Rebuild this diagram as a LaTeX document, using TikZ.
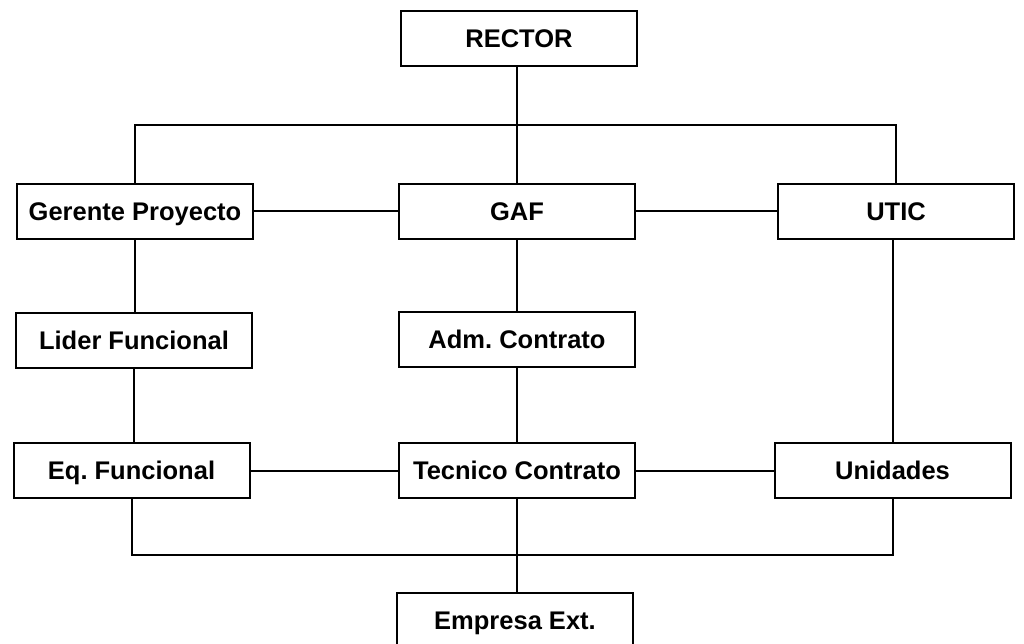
\documentclass[tikz,border=0pt]{standalone}
\usepackage{fontspec}
\setmainfont{Liberation Sans}
\frenchspacing
\begin{document}
\begin{tikzpicture}[x=1pt,y=-1pt,
  unit/.style={draw, line width=2pt, fill=white, minimum width=236pt,
    minimum height=55pt, inner sep=0pt, text height=18pt, text depth=0pt,
    font=\fontsize{25.5}{28}\selectfont\bfseries},
  link/.style={line width=2pt}]
\useasboundingbox (0,0) rectangle (1024,643);
\fill[white] (0,0) rectangle (1024,643);

% top level
\node[unit] (rector) at (519,38.5) {RECTOR};

% first row
\node[unit] (gerente)  at (135,211) {Gerente Proyecto};
\node[unit] (gaf)      at (517,211) {GAF};
\node[unit] (utic)     at (896,211) {UTIC};

% second row
\node[unit] (lider) at (134,340.5) {Lider Funcional};
\node[unit] (adm)   at (517,339.5) {Adm. Contrato};

% third row
\node[unit] (eq)       at (131.5,470.5) {Eq. Funcional};
\node[unit] (tecnico)  at (517,470.5) {Tecnico Contrato};
\node[unit] (unidades) at (892.5,470.5) {Unidades};

% external company
\node[unit] (empresa) at (515,620) {Empresa Ext.};

% bus lines
\coordinate (bustop) at (517,125);
\coordinate (busbot) at (511,555);

\draw[link] (rector.south -| gaf.north) -- (gaf.north);
\draw[link] (gerente.north) |- (bustop) -| (utic.north);
\draw[link] (gerente.east) -- (gaf.west);
\draw[link] (gaf.east) -- (utic.west);
\draw[link] (gerente.south) -- (gerente.south |- lider.north);
\draw[link] (gaf.south) -- (adm.north);
\draw[link] (adm.south) -- (tecnico.north);
\draw[link] (lider.south) -- (lider.south |- eq.north);
\draw[link] (utic.south -| unidades.north) -- (unidades.north);
\draw[link] (eq.east) -- (tecnico.west);
\draw[link] (tecnico.east) -- (unidades.west);
\draw[link] (eq.south) |- (busbot) -| (unidades.south);
\draw[link] (tecnico.south) -- (tecnico.south |- empresa.north);
\end{tikzpicture}
\end{document}
